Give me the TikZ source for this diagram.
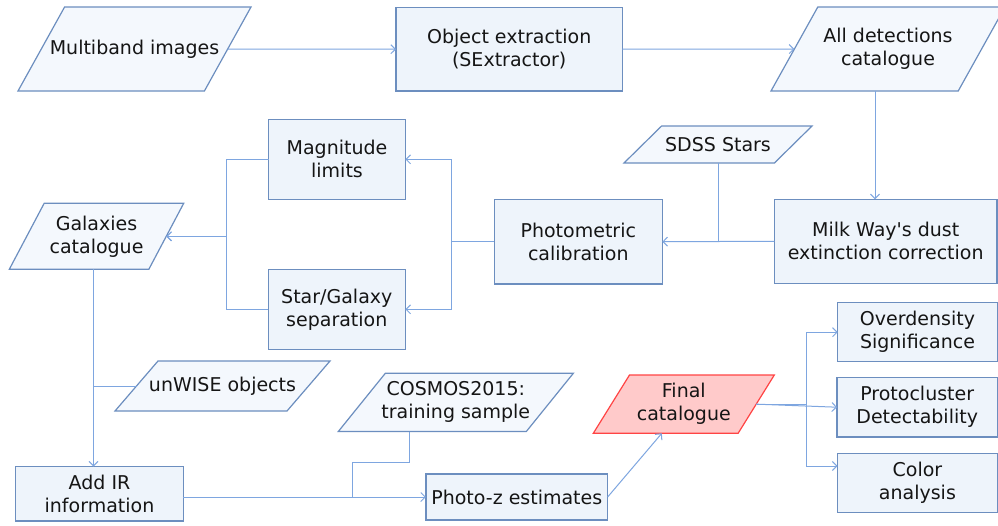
\documentclass[tikz,border=0pt]{standalone}
\usepackage{fontspec}
\setmainfont{DejaVu Sans}
\usetikzlibrary{arrows.meta,calc}
\definecolor{bordc}{HTML}{6C8EBF}
\definecolor{boxf}{HTML}{EEF4FB}
\definecolor{paraf}{HTML}{F4F8FD}
\definecolor{linec}{HTML}{7EA6E0}
\definecolor{redb}{HTML}{FF4444}
\definecolor{redf}{HTML}{FFCACA}
\definecolor{txtc}{HTML}{151515}
\newcommand\mypara[7][paraS]{%
  \pgfmathsetmacro\pd{0.2*(#5-#3)}%
  \pgfmathsetmacro\pxa{#3+\pd}%
  \pgfmathsetmacro\pxb{#5-\pd}%
  \pgfmathsetmacro\pym{(#4+#6)/2}%
  \pgfmathsetmacro\pxm{(#3+#5)/2}%
  \pgfmathsetmacro\pxl{#3+\pd/2}%
  \pgfmathsetmacro\pxr{#5-\pd/2}%
  \pgfmathsetmacro\pw{#5-#3}%
  \pgfmathsetmacro\ph{#6-#4}%
  \draw[#1] (\pxa,#4) -- (#5,#4) -- (\pxb,#6) -- (#3,#6) -- cycle;
  \node[txt, minimum width=\pw pt, minimum height=\ph pt] (#2) at (\pxm,\pym) {#7};
  \coordinate (#2-w) at (\pxl,\pym);
  \coordinate (#2-e) at (\pxr,\pym);
}
\begin{document}
\begin{tikzpicture}[x=1pt,y=-1pt,
  txt/.style={font=\fontsize{19}{23}\selectfont, text=txtc, align=center, inner sep=0pt, outer sep=0pt},
  procbox/.style={txt, draw=bordc, fill=boxf, line width=1.2pt},
  paraS/.style={draw=bordc, fill=paraf, line width=1.2pt, line join=miter},
  paraR/.style={draw=redb, fill=redf, line width=1.2pt, line join=miter},
  conn/.style={draw=linec, line width=1pt},
  arr/.style={conn, -{Straight Barb[length=4.5pt,width=9pt]}}]
\useasboundingbox (0,0) rectangle (998,525);
\clip (0,0) rectangle (998,525);
\fill[white] (0,0) rectangle (998,525);

% parallelograms
\mypara{multi}{18}{7}{251}{91}{Multiband images}
\mypara{alld}{771}{7}{1005}{91}{All detections\\catalogue}
\mypara{sdss}{624}{126}{812}{163}{SDSS Stars}
\mypara{gal}{9.3}{203.3}{183.7}{269.3}{Galaxies\\catalogue}
\mypara{unwise}{115}{361}{330}{411}{unWISE objects}
\mypara{cosmos}{338.3}{373.3}{573.3}{431.5}{COSMOS2015:\\training sample}
\mypara[paraR]{final}{593.3}{375}{774.3}{433.3}{Final\\catalogue}

% process boxes
\node[procbox, minimum width=226.3pt, minimum height=83.7pt] (obj) at (509.2,49.2) {Object extraction\\(SExtractor)};
\node[procbox, minimum width=136.6pt, minimum height=80pt] (maglim) at (337,159.3) {Magnitude\\limits};
\node[procbox, minimum width=168pt, minimum height=84.7pt] (photo) at (578.3,241.7) {Photometric\\calibration};
\node[procbox, minimum width=222.7pt, minimum height=84pt] (milk) at (885.7,241.3) {Milk Way\textquotesingle s dust\\extinction correction};
\node[procbox, minimum width=137pt, minimum height=80pt] (stargal) at (336.8,309.3) {Star/Galaxy\\separation};
\node[procbox, minimum width=167.6pt, minimum height=54.3pt] (addir) at (99.5,493.8) {Add IR\\information};
\node[procbox, minimum width=181.7pt, minimum height=46pt] (photoz) at (516.8,497) {Photo-z estimates};
\node[procbox, minimum width=159.6pt, minimum height=59pt] (over) at (917.5,332.2) {Overdensity\\Significance};
\node[procbox, minimum width=160.3pt, minimum height=59.7pt] (prot) at (917.2,407.2) {Protocluster\\Detectability};
\node[procbox, minimum width=159.8pt, minimum height=59pt] (color) at (917.4,482.8) {Color\\analysis};

% connectors
\draw[arr] (multi-e) -- (obj.west);
\draw[arr] (obj.east) -- (alld-w);
\coordinate (ax) at ([xshift=-13pt]alld.south);
\draw[arr] (ax) -- (ax |- milk.north);
\draw[arr] (milk.west) -- (photo.east);
\draw[conn] (sdss.south) -- (sdss.south |- photo.east);
\draw[arr] (photo.west) -- ++(-43,0) |- (maglim.east);
\draw[arr] (photo.west) -- ++(-43,0) |- (stargal.east);
\draw[arr] (maglim.west) -- ++(-42,0) |- (gal-e);
\draw[arr] (stargal.west) -- ++(-42,0) |- (gal-e);
\coordinate (gx) at ([xshift=-3pt]gal.south);
\draw[arr] (gx) -- (gx |- addir.north);
\draw[conn] (unwise-w) -- (unwise-w -| gx);
\draw[arr] (addir.east |- photoz.west) -- (photoz.west);
\coordinate (cj) at ([xshift=-46.5pt]cosmos.south);
\coordinate (j2) at (352,0);
\draw[conn] (cj) -- ++(0,31) -| (photoz.west -| j2);
\draw[arr] (photoz.east) -- ([xshift=-22pt]final.south);
\draw[arr] (final-e) -- (prot.west);
\draw[arr] (final-e) -- ++(50,0) |- (over.west);
\draw[arr] (final-e) -- ++(50,0) |- ([yshift=16.8pt]color.west);
\end{tikzpicture}
\end{document}
